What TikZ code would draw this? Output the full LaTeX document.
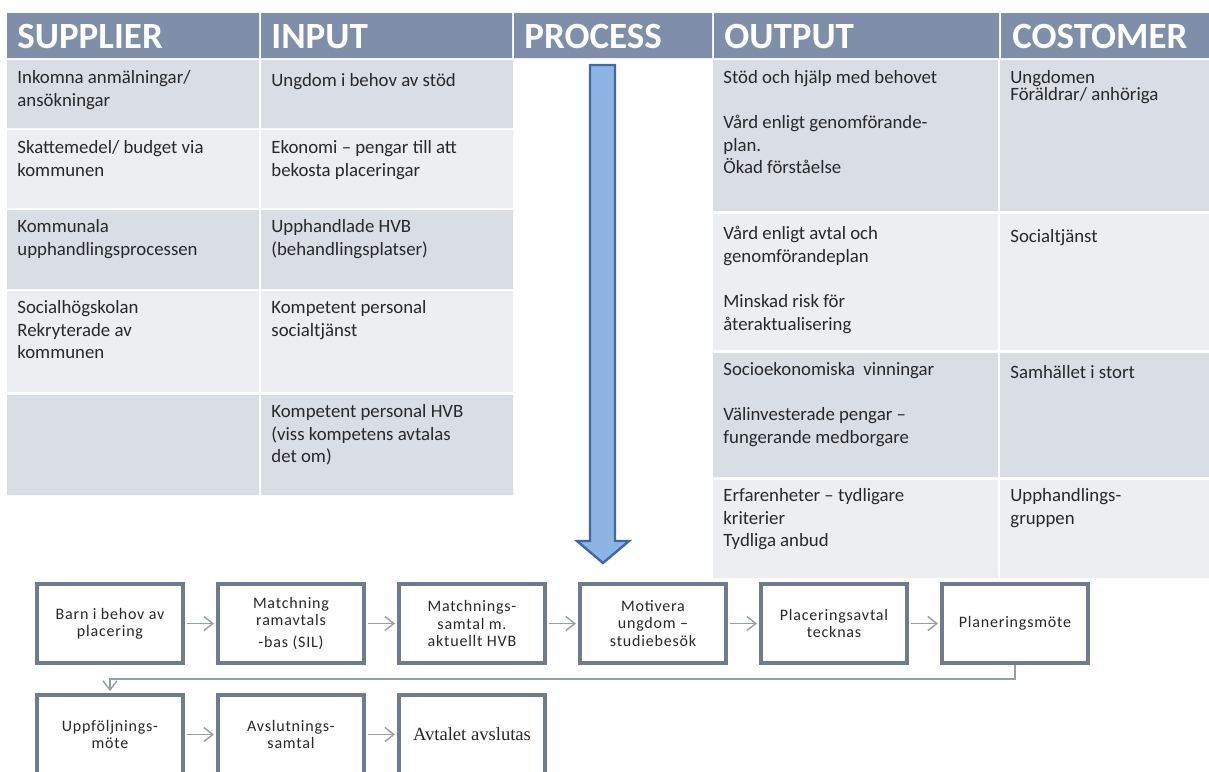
\documentclass[tikz,border=0pt]{standalone}
\usepackage{fontspec}
\setmainfont{Carlito}
\newfontfamily\boxfont[LetterSpace=5]{Carlito}
\newfontfamily\boxserif{Liberation Serif}
\usetikzlibrary{arrows.meta,positioning,shadows}

\definecolor{headblue}{RGB}{127,143,169}
\definecolor{rowdark}{RGB}{217,221,228}
\definecolor{rowlight}{RGB}{236,238,242}
\definecolor{boxline}{RGB}{111,123,143}
\definecolor{flowline}{RGB}{150,158,172}
\definecolor{ink}{RGB}{40,40,40}
\definecolor{arrowfill}{RGB}{142,180,227}
\definecolor{arrowedge}{RGB}{62,104,166}

\begin{document}
\begin{tikzpicture}[x=0.5pt,y=-0.5pt,>={Straight Barb[length=4.5pt,width=7pt]},node distance=90.5pt,
	head/.style={anchor=base west,inner sep=0pt,text=white,font=\bfseries\fontsize{18.5}{20}\selectfont},
	cell/.style={anchor=north west,inner sep=0pt,align=left,text=ink,font=\fontsize{9.4}{11.3}\selectfont,execute at begin node=\strut},
	flowbox/.style={draw=boxline,line width=2pt,fill=white,minimum width=73pt,minimum height=39.5pt,align=center,text=ink,font=\boxfont\fontsize{8}{8.6}\selectfont,drop shadow={shadow xshift=0.9pt,shadow yshift=-0.9pt,opacity=0.4}},
	flow/.style={->,draw=flowline,line width=0.7pt,shorten <=1pt,shorten >=1pt}]

\useasboundingbox[fill=white] (0,0) rectangle (1209,771);

\fill[headblue] (7,13) rectangle (259,58) (261,13) rectangle (512,58) (514,13) rectangle (712,58)
	(714,13) rectangle (999,58) (1001,13) rectangle (1209,58);

\fill[rowdark] (7,60) rectangle (259,128) (261,60) rectangle (513,128);
\fill[rowlight] (7,130) rectangle (259,208) (261,130) rectangle (513,208);
\fill[rowdark] (7,210) rectangle (259,289) (261,210) rectangle (513,289);
\fill[rowlight] (7,291) rectangle (259,392) (261,291) rectangle (513,392);
\fill[rowdark] (7,395) rectangle (259,495) (261,395) rectangle (513,495);

\fill[rowdark] (713,60) rectangle (998,211) (1000,60) rectangle (1209,211);
\fill[rowlight] (713,214) rectangle (998,350) (1000,214) rectangle (1209,350);
\fill[rowdark] (713,353) rectangle (998,477) (1000,353) rectangle (1209,477);
\fill[rowlight] (713,480) rectangle (998,578) (1000,480) rectangle (1209,578);

\node[head] (hsup) at (17,48) {SUPPLIER};
\node[head] (hin) at (271,48) {INPUT};
\node[head] (hpro) at (524,48) {PROCESS};
\node[head] (hout) at (724,48) {OUTPUT};
\node[head] (hcus) at (1012,48) {COSTOMER};

\node[cell] (s1) at (17,70) {Inkomna anmälningar/\\ansökningar};
\node[cell] (i1) at (271,70) {Ungdom i behov av stöd};
\node[cell] (s2) at (17,140) {Skattemedel/ budget via\\kommunen};
\node[cell] (i2) at (271,140) {Ekonomi – pengar till att\\bekosta placeringar};
\node[cell] (s3) at (17,219) {Kommunala\\upphandlingsprocessen};
\node[cell] (i3) at (271,219) {Upphandlade HVB\\(behandlingsplatser)};
\node[cell] (s4) at (17,300) {Socialhögskolan\\Rekryterade av\\kommunen};
\node[cell] (i4) at (271,300) {Kompetent personal\\socialtjänst};
\node[cell] (i5) at (271,404) {Kompetent personal HVB\\(viss kompetens avtalas\\det om)};

\node[cell] (o1) at (723,70) {Stöd och hjälp med behovet\\[11.3pt]Vård enligt genomförande-\\plan.\\Ökad förståelse};
\node[cell] (c1) at (1010,70) {Ungdomen\\[-3pt]Föräldrar/ anhöriga};
\node[cell] (o2) at (723,226) {Vård enligt avtal och\\genomförandeplan\\[11.3pt]Minskad risk för\\återaktualisering};
\node[cell] (c2) at (1010,226) {Socialtjänst};
\node[cell] (o3) at (723,362) {Socioekonomiska\ \ vinningar\\[11.3pt]Välinvesterade pengar –\\fungerande medborgare};
\node[cell] (c3) at (1010,362) {Samhället i stort};
\node[cell] (o4) at (723,488) {Erfarenheter – tydligare\\kriterier\\Tydliga anbud};
\node[cell] (c4) at (1010,488) {Upphandlings-\\gruppen};

\draw[arrowedge,fill=arrowfill,line width=1.2pt,line join=miter] (590,65) -- (615,65) -- (615,541) -- (629,541)
	-- (603,563) -- (577,541) -- (590,541) -- cycle;

\node[flowbox] (f1) at (110,623.5) {Barn i behov av\\placering};
\node[flowbox] (f2) [right of=f1] {Matchning\\ramavtals\\[2pt]-bas (SIL)};
\node[flowbox] (f3) [right of=f2] {Matchnings-\\samtal m.\\aktuellt HVB};
\node[flowbox] (f4) [right of=f3] {Motivera\\ungdom –\\studiebesök};
\node[flowbox] (f5) [right of=f4] {Placeringsavtal\\tecknas};
\node[flowbox] (f6) [right of=f5] {Planeringsmöte};
\node[flowbox] (g1) [below of=f1,node distance=55.5pt] {Uppföljnings-\\möte};
\node[flowbox] (g2) [right of=g1] {Avslutnings-\\samtal};
\node[flowbox,font=\boxserif\fontsize{9.3}{11}\selectfont] (g3) [right of=g2] {Avtalet avslutas};
\coordinate (turn) at (1015,679);

\path[flow] (f1) edge (f2)
	(f2) edge (f3)
	(f3) edge (f4)
	(f4) edge (f5)
	(f5) edge (f6)
	(g1) edge (g2)
	(g2) edge (g3);
\draw[flow,shorten <=0pt] (f6) -- (turn) -| (g1);

\end{tikzpicture}
\end{document}
